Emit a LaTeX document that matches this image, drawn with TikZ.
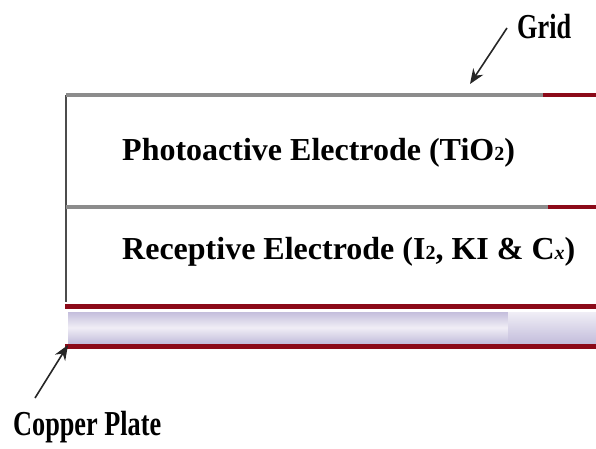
\documentclass[tikz,border=0pt]{standalone}
\usepackage{fontspec}
\setmainfont{Liberation Serif}
\newfontfamily\narrowfont[FakeStretch=0.75]{Liberation Serif}
\usetikzlibrary{arrows.meta}
\definecolor{darkred}{RGB}{140,10,25}
\definecolor{gridgray}{RGB}{140,140,140}
\definecolor{lavA}{RGB}{196,190,220}
\definecolor{lavB}{RGB}{240,238,246}
\tikzset{
  redline/.style={darkred, line width=5pt},
  grayline/.style={gridgray, line width=3.5pt},
  gridred/.style={darkred, line width=4pt},
  lbl/.style={font=\bfseries\fontsize{32}{36}\selectfont, inner sep=0pt, anchor=base west},
  callout/.style={font=\narrowfont\bfseries\fontsize{35}{40}\selectfont, inner sep=0pt, anchor=base west},
  pointer/.style={-{Stealth[length=15pt,width=12pt]}, line width=1.6pt, black!85}
}
\newcommand{\lowsub}[1]{{\fontsize{20}{22}\selectfont #1}}
\begin{document}
\begin{tikzpicture}[x=1pt,y=-1pt]
\useasboundingbox (0,0) rectangle (596,448);
% coordinates
\coordinate (tl) at (66,95);
\coordinate (tm) at (543,95);
\coordinate (tr) at (596,95);
\coordinate (ml) at (66,207);
\coordinate (mm) at (548,207);
\coordinate (mr) at (596,207);
\coordinate (bl) at (66,302);
% lavender bar
\shade[top color=lavA, bottom color=lavA, middle color=lavB] (68,312) rectangle (508,343);
\shade[top color=lavB, bottom color=lavA] (508,312) rectangle (596,343);
% left edge
\draw[gray!60!black, line width=1.2pt] (tl) -- (bl);
% top grid
\draw[grayline] (tl) -- (tm);
\draw[gridred] (tm) -- (tr);
% middle grid
\draw[grayline] (ml) -- (mm);
\draw[gridred] (mm) -- (mr);
% red lines
\draw[redline] (65,306) -- (596,306);
\draw[redline] (65,346) -- (596,346);
\coordinate (cp) at (68,345);
\coordinate (gp) at (470,84);
% labels
\node[lbl] (pe) at (122,160) {Photoactive Electrode (TiO\lowsub{2})};
\node[lbl] (re) at (122,259) {Receptive Electrode (I\lowsub{2}, KI \& C\lowsub{\itshape x})};
\node[callout] (grid) at (517,38) {Grid};
\node[callout] (copper) at (13,435) {Copper Plate};
\coordinate (gs) at (507,28);
\coordinate (cs) at (35,398);
\draw[pointer] (gs) -- (gp);
\draw[pointer] (cs) -- (cp);
\end{tikzpicture}
\end{document}
